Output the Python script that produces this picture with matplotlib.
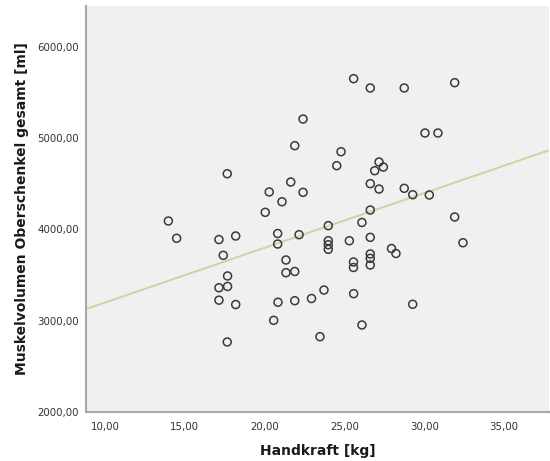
import numpy as np
import matplotlib
matplotlib.use("Agg")
import matplotlib.pyplot as plt
from matplotlib.ticker import FuncFormatter

# Handgrip strength [kg] and total thigh muscle volume [ml]
handkraft = [
    22.41, 21.89, 17.66, 21.64, 20.29, 22.41, 21.09, 20.04, 13.97, 14.49,
    17.14, 18.19, 20.82, 22.16, 20.82, 17.41, 21.34, 25.58, 26.62, 28.75,
    31.91, 30.05, 30.86, 24.79, 24.52, 27.17, 27.44, 26.90, 26.62, 27.17,
    28.75, 29.28, 30.32, 26.62, 31.91, 23.99, 26.10, 23.99, 23.99, 23.99,
    25.31, 26.62, 32.43, 27.95, 28.23, 26.62, 26.62, 26.62, 25.57, 25.57,
    21.34, 21.89, 17.68, 17.14, 17.68, 17.14, 18.19, 20.84, 21.89, 22.94,
    23.72, 25.58, 29.28, 20.57, 26.10, 23.47, 17.66,
]
muskelvolumen = [
    5209, 4917, 4610, 4519, 4410, 4406, 4303, 4187, 4092, 3903,
    3889, 3928, 3955, 3942, 3840, 3716, 3665, 5651, 5549, 5549,
    5607, 5056, 5056, 4851, 4698, 4738, 4683, 4643, 4501, 4442,
    4450, 4380, 4377, 4212, 4136, 4041, 4076, 3876, 3832, 3782,
    3876, 3913, 3854, 3791, 3736, 3731, 3683, 3610, 3643, 3583,
    3526, 3539, 3490, 3361, 3375, 3225, 3177, 3202, 3219, 3243,
    3336, 3296, 3180, 3004, 2953, 2825, 2767,
]

x_ticks = [10, 15, 20, 25, 30, 35]
y_ticks = [2000, 3000, 4000, 5000, 6000]

x = np.array(handkraft, dtype=float)
y = np.array(muskelvolumen, dtype=float)

fig = plt.figure(figsize=(5.5, 4.61), dpi=100)
ax = fig.add_axes([86 / 550, 49 / 461, 463 / 550, 406 / 461])
ax.set_facecolor("#F0F0F0")

xlim = (8.81, 37.82)
ylim = (2000, 6447)
ax.set_xlim(*xlim)
ax.set_ylim(*ylim)

# Linear least-squares fit line across the full x range
slope, intercept = np.polyfit(x, y, 1)
xs = np.array(xlim)
ax.plot(xs, intercept + slope * xs, color="#D5D0A2", lw=1.4, zorder=2)

ax.scatter(x, y, s=33, facecolors="none", edgecolors="#3A3A3A",
           linewidths=1.1, zorder=3)

fmt = FuncFormatter(lambda v, p: f"{v:.2f}".replace(".", ","))
ax.set_xticks(x_ticks)
ax.set_yticks(y_ticks)
ax.xaxis.set_major_formatter(fmt)
ax.yaxis.set_major_formatter(fmt)
ax.tick_params(axis="both", length=0, labelsize=7.4, colors="#333333")
ax.tick_params(axis="x", pad=7)
ax.tick_params(axis="y", pad=5)

for side in ("top", "right"):
    ax.spines[side].set_visible(False)
for side in ("left", "bottom"):
    ax.spines[side].set_color("#A8A8A8")
    ax.spines[side].set_linewidth(1.5)

ax.set_xlabel("Handkraft [kg]", fontsize=10, fontweight="bold",
              color="#1A1A1A", labelpad=9)
ax.set_ylabel("Muskelvolumen Oberschenkel gesamt [ml]", fontsize=10,
              fontweight="bold", color="#1A1A1A", labelpad=6)

fig.savefig("out.png", dpi=100)
